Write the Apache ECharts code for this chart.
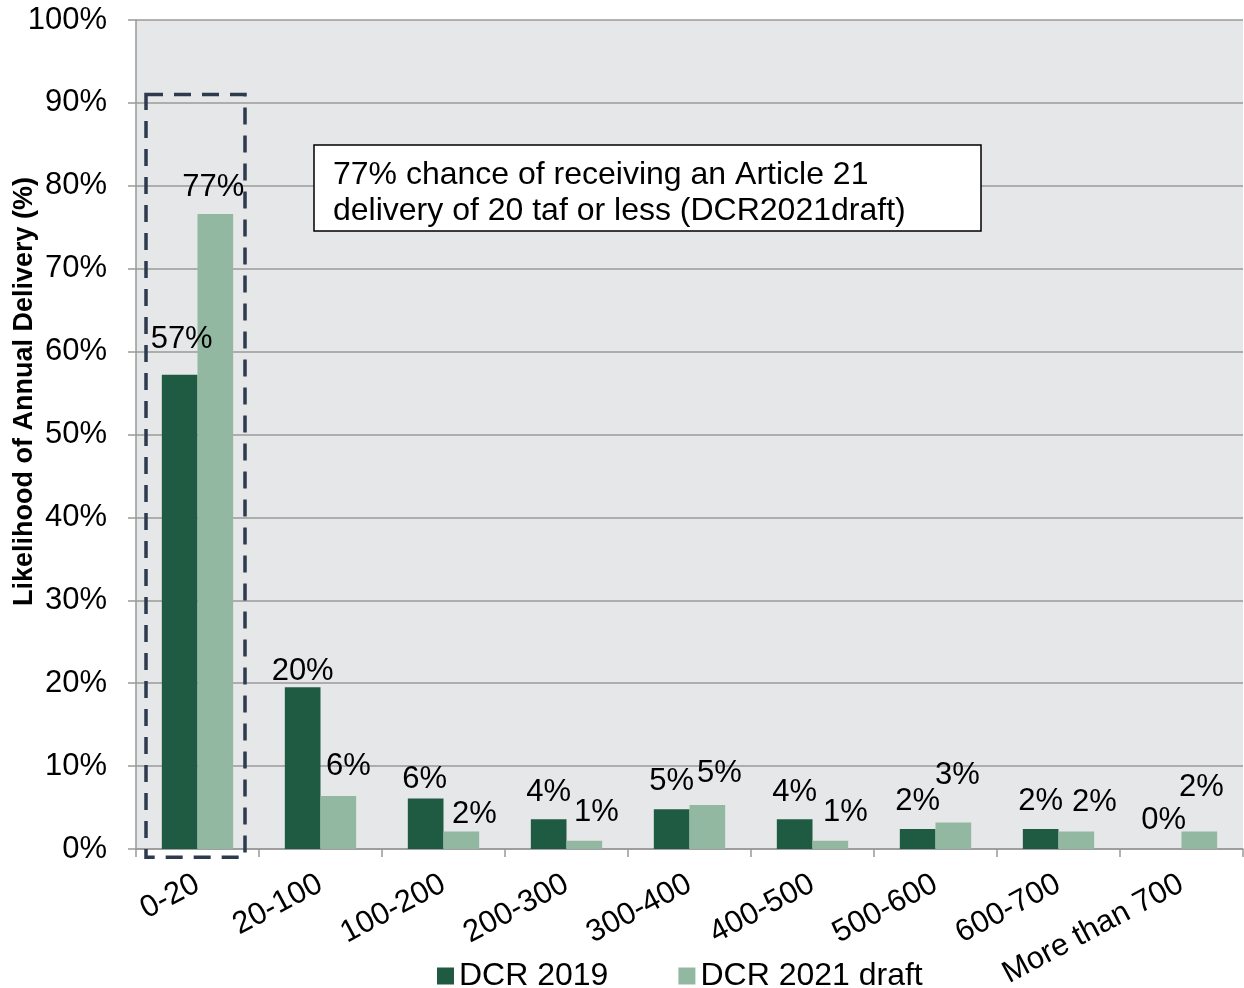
<!DOCTYPE html>
<html>
<head>
<meta charset="utf-8">
<script src="https://cdn.jsdelivr.net/npm/echarts@6/dist/echarts.min.js"></script>
<style>
html,body{margin:0;padding:0;background:#fff;}
#c{width:1244px;height:988px;}
</style>
</head>
<body>
<div id="c"></div>
<script>
const categories = ['0-20','20-100','100-200','200-300','300-400','400-500','500-600','600-700','More than 700'];
const dcr2019 = [57.2, 19.5, 6.1, 3.6, 4.8, 3.6, 2.4, 2.4, 0];
const dcr2021 = [76.6, 6.4, 2.1, 1.0, 5.3, 1.0, 3.2, 2.1, 2.1];
const yTicks = [0,10,20,30,40,50,60,70,80,90,100];
const seriesNames = ['DCR 2019', 'DCR 2021 draft'];
const noteText = '77% chance of receiving an Article 21\ndelivery of 20 taf or less (DCR2021draft)';
const yAxisTitle = 'Likelihood of Annual Delivery (%)';

// label offsets to mimic original label placement
const off2019 = [[2,-20],[0,0],[-1,-3],[0,-11],[0,-12],[0,-11],[0,-12],[0,-12],[0,-13]];
const off2021 = [[-2,-11],[10,-14],[13,-2],[12,-13],[12,-16],[15,-13],[4,-32],[18,-14],[2,-29]];

const FONT = 'Arial, "Liberation Sans", sans-serif';
const fs = 31;

function mk(vals, offs) {
  return vals.map((v,i)=>({value:v, label:{offset:offs[i]}}));
}

const chart = echarts.init(document.getElementById('c'), null, {renderer:'canvas'});
const option = {
  animation:false,
  textStyle:{fontFamily:FONT},
  grid:{left:136, top:20, right:1, bottom:139, show:true, backgroundColor:'#E6E7E9', borderWidth:0,
        containLabel:false, outerBoundsMode:'none'},
  legend:{
    data:seriesNames, left:432, top:955, icon:'rect', itemWidth:17, itemHeight:17, itemGap:70,
    textStyle:{fontSize:32, color:'#000', fontFamily:FONT}
  },
  xAxis:{
    type:'category', data:categories,
    axisLine:{lineStyle:{color:'#999', width:1.5}},
    axisTick:{show:true, length:8, lineStyle:{color:'#999', width:1.5}},
    axisLabel:{rotate:28, margin:33, fontSize:fs, color:'#000', fontFamily:FONT, interval:0}
  },
  yAxis:{
    type:'value', min:0, max:100, interval:10,
    name:yAxisTitle, nameLocation:'middle', nameRotate:90, nameGap:98, nameMoveOverlap:false,
    nameTextStyle:{fontSize:27, fontWeight:'bold', color:'#000', fontFamily:FONT, padding:[0,0,0,86]},
    axisLine:{show:true, lineStyle:{color:'#999', width:1.5}},
    axisTick:{show:true, length:8, lineStyle:{color:'#999', width:1.5}},
    splitLine:{lineStyle:{color:'#9a9a9a', width:1.5}},
    axisLabel:{fontSize:fs, color:'#000', margin:29, fontFamily:FONT, formatter:v=>v+'%'}
  },
  series:[
    {name:seriesNames[0], type:'bar', data:mk(dcr2019, off2019), barGap:'0%', barCategoryGap:'42%',
     itemStyle:{color:'#1F5B43'},
     label:{show:true, position:'top', distance:0, fontSize:fs, color:'#000', fontFamily:FONT,
            formatter:p=>Math.round(p.value)+'%'}},
    {name:seriesNames[1], type:'bar', data:mk(dcr2021, off2021), barGap:'0%', barCategoryGap:'42%',
     itemStyle:{color:'#93B8A2'},
     label:{show:true, position:'top', distance:0, fontSize:fs, color:'#000', fontFamily:FONT,
            formatter:p=>Math.round(p.value)+'%'}}
  ]
};
chart.setOption(option);

// annotations placed relative to the axes
const c0 = chart.convertToPixel({xAxisIndex:0}, categories[0]);
const yTop = chart.convertToPixel({yAxisIndex:0}, 91);
const yBot = chart.convertToPixel({yAxisIndex:0}, -1);
chart.setOption({
  graphic:[
    {type:'rect', shape:{x:c0-51.5, y:yTop, width:99, height:yBot-yTop}, z:100,
     style:{fill:'none', stroke:'#2E3A4E', lineWidth:3.5, lineDash:[17,11]}},
    {type:'rect', shape:{x:314, y:145, width:667, height:86}, z:100,
     style:{fill:'#fff', stroke:'#000', lineWidth:1.5}},
    {type:'text', x:333, y:193, z:101,
     style:{text:noteText, fontSize:32, fontFamily:FONT, fill:'#000', lineHeight:36, verticalAlign:'middle', textAlign:'left'}}
  ]
});
</script>
</body>
</html>
